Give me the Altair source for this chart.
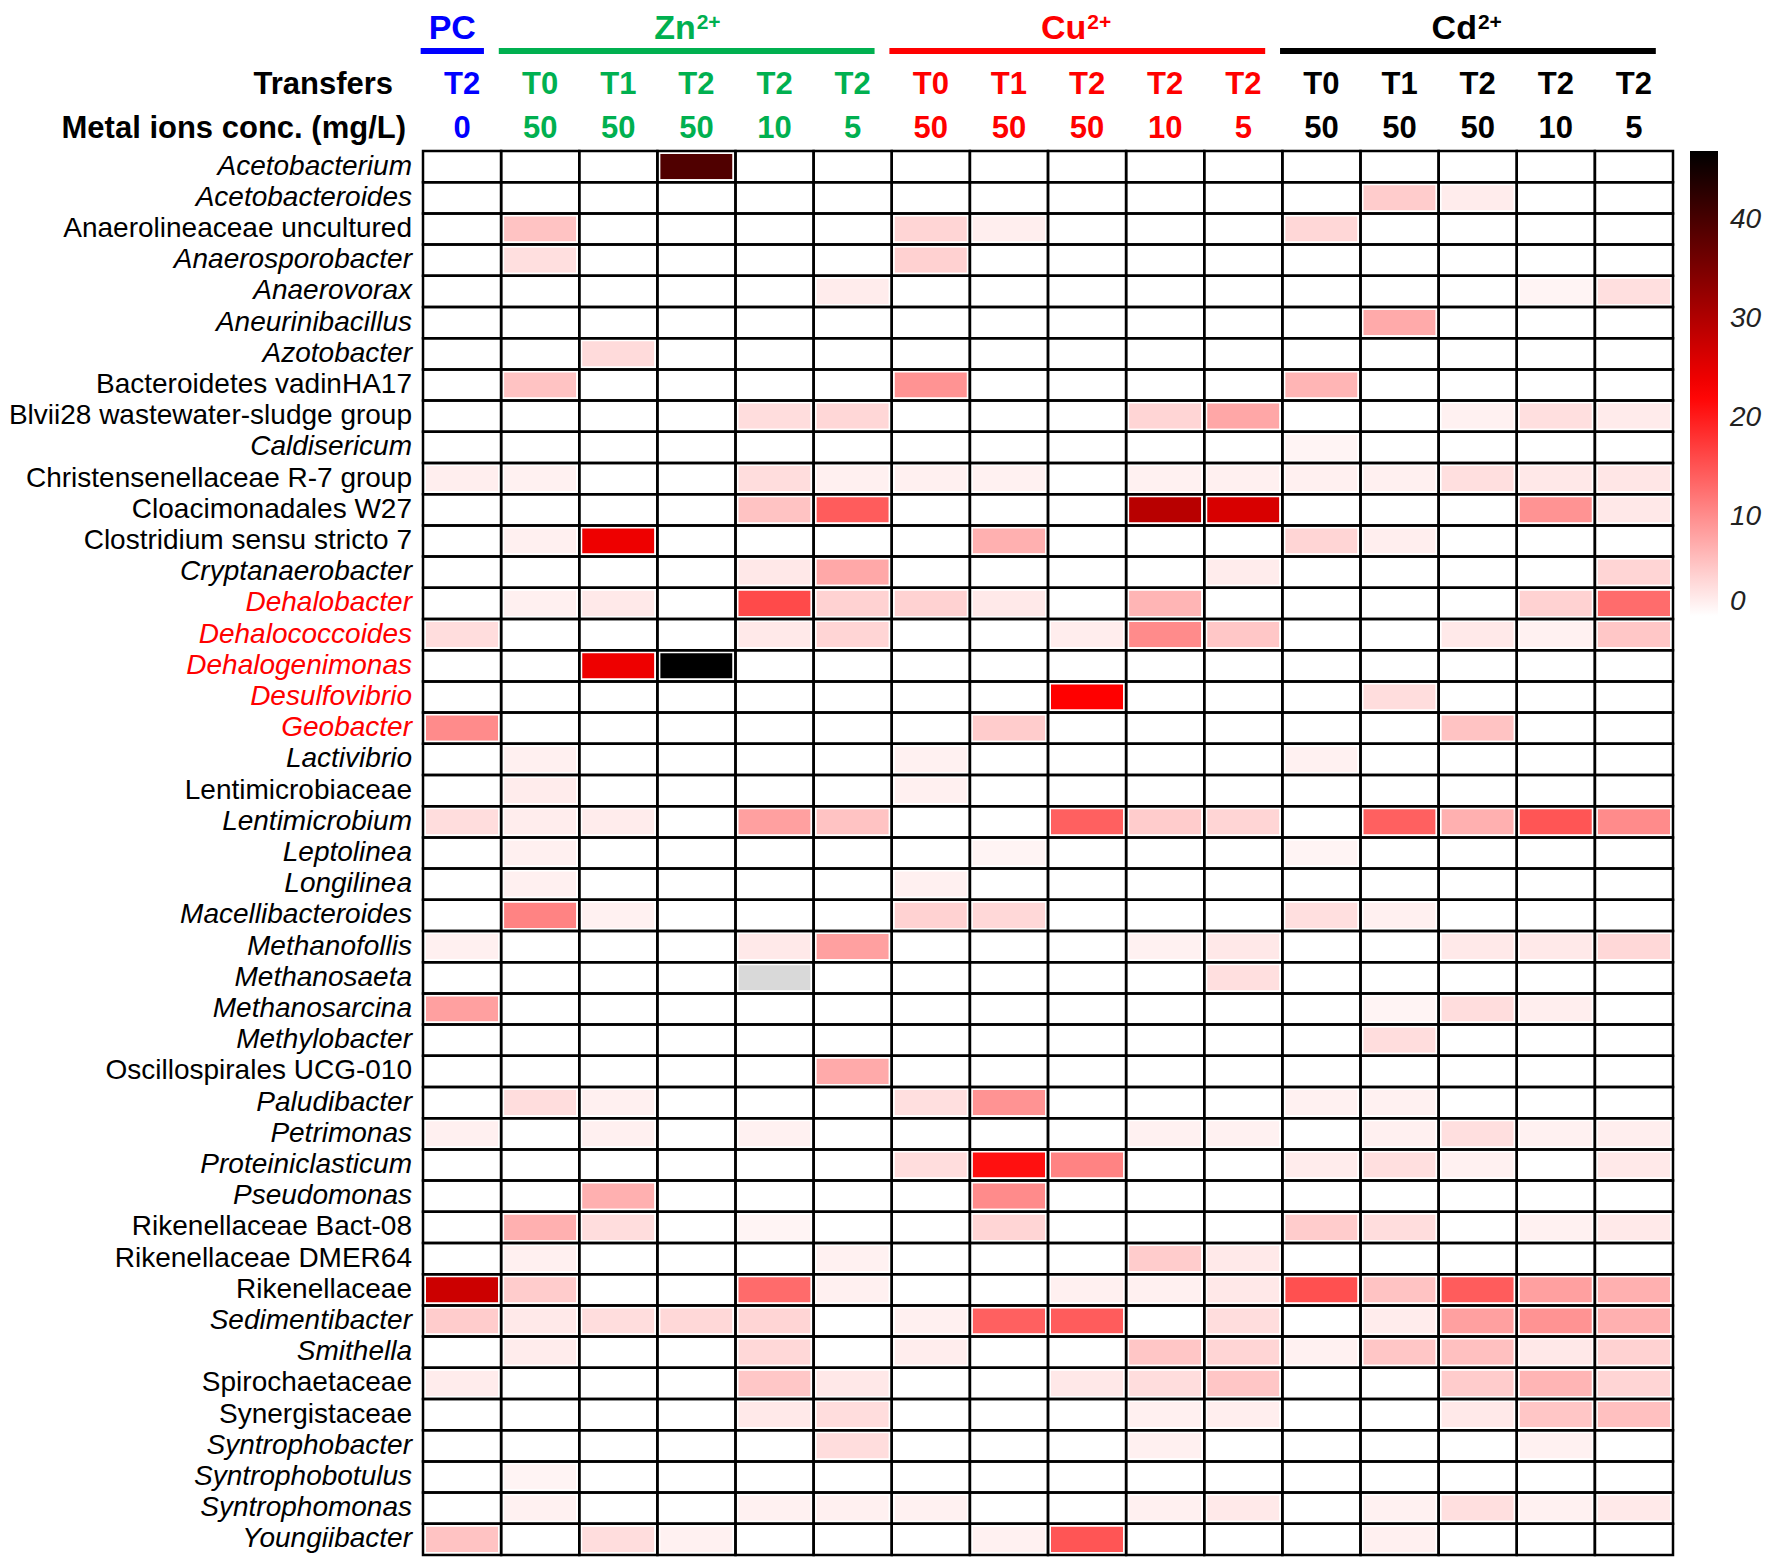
import altair as alt
import pandas as pd

# ---------------- data ----------------
genera = [
    "Acetobacterium", "Acetobacteroides", "Anaerolineaceae uncultured", "Anaerosporobacter",
    "Anaerovorax", "Aneurinibacillus", "Azotobacter", "Bacteroidetes vadinHA17",
    "Blvii28 wastewater-sludge group", "Caldisericum", "Christensenellaceae R-7 group",
    "Cloacimonadales W27", "Clostridium sensu stricto 7", "Cryptanaerobacter", "Dehalobacter",
    "Dehalococcoides", "Dehalogenimonas", "Desulfovibrio", "Geobacter", "Lactivibrio",
    "Lentimicrobiaceae", "Lentimicrobium", "Leptolinea", "Longilinea", "Macellibacteroides",
    "Methanofollis", "Methanosaeta", "Methanosarcina", "Methylobacter", "Oscillospirales UCG-010",
    "Paludibacter", "Petrimonas", "Proteiniclasticum", "Pseudomonas", "Rikenellaceae Bact-08",
    "Rikenellaceae DMER64", "Rikenellaceae", "Sedimentibacter", "Smithella", "Spirochaetaceae",
    "Synergistaceae", "Syntrophobacter", "Syntrophobotulus", "Syntrophomonas", "Youngiibacter",
]
normal_font_genera = [
    "Anaerolineaceae uncultured", "Bacteroidetes vadinHA17", "Blvii28 wastewater-sludge group",
    "Christensenellaceae R-7 group", "Cloacimonadales W27", "Clostridium sensu stricto 7",
    "Lentimicrobiaceae", "Oscillospirales UCG-010", "Rikenellaceae Bact-08",
    "Rikenellaceae DMER64", "Rikenellaceae", "Spirochaetaceae", "Synergistaceae",
]
red_genera = ["Dehalobacter", "Dehalococcoides", "Dehalogenimonas", "Desulfovibrio", "Geobacter"]

transfers = ["T2", "T0", "T1", "T2", "T2", "T2", "T0", "T1", "T2", "T2", "T2", "T0", "T1", "T2", "T2", "T2"]
concs = ["0", "50", "50", "50", "10", "5", "50", "50", "50", "10", "5", "50", "50", "50", "10", "5"]
col_group = [0, 1, 1, 1, 1, 1, 2, 2, 2, 2, 2, 3, 3, 3, 3, 3]

group_base = ["PC", "Zn", "Cu", "Cd"]
group_sup = ["", "2+", "2+", "2+"]
group_colors = ["#0000ff", "#00b050", "#ff0000", "#000000"]
group_start = [0, 1, 6, 11]
group_end = [1, 6, 11, 16]

# relative abundance (%) per sample column, rows in the order of `genera`; None = not available
pc_t2_0 = [0,0,0,0,0, 0,0,0,0,0, 1.5,0,0,0,0, 3.0,0,0,10.2,0, 0,3.0,0,0,0, 1.3,0,8.4,0,0, 0,1.3,0,0,0, 0,27.4,4.5,0,1.7, 0,0,0,0,5.3]
zn_t0_50 = [0,0,5.3,2.8,0, 0,0,5.3,0,0, 1.2,0,1.3,0,1.3, 0,0,0,0,1.3, 1.7,1.6,1.3,1.3,10.9, 0,0,0,0,0, 3.0,0,0,0,7.0, 1.3,4.5,1.9,1.7,0, 0,0,1.0,1.2,0]
zn_t1_50 = [0,0,0,0,0, 0,3.2,0,0,0, 0,0,24.1,0,1.9, 0,24.1,0,0,0, 0,1.7,0,0,1.2, 0,0,0,0,0, 1.3,1.3,0,7.0,3.0, 0,0,3.0,0,0, 0,0,0,0,3.0]
zn_t2_50 = [39.3,0,0,0,0, 0,0,0,0,0, 0,0,0,0,0, 0,47.0,0,0,0, 0,0,0,0,0, 0,0,0,0,0, 0,0,0,0,0, 0,0,3.4,0,0, 0,0,0,0,1.2]
zn_t2_10 = [0,0,0,0,0, 0,0,0,3.0,0, 3.0,5.3,0,2.0,16.0, 1.9,0,0,0,0, 0,8.4,0,0,0, 1.9,None,0,0,0, 0,1.2,0,0,1.0, 0,13.1,3.7,3.4,4.9, 1.9,0,0,1.2,0]
zn_t2_5 = [0,0,0,0,1.7, 0,0,0,3.5,0, 1.3,14.4,0,7.7,4.0, 3.7,0,0,0,0, 0,5.3,0,0,0, 8.4,0,0,0,7.5, 0,0,0,0,0, 1.2,1.3,0,0,2.0, 3.0,3.0,0,1.3,0]
cu_t0_50 = [0,0,3.7,4.1,0, 0,0,9.5,0,0, 1.3,0,0,0,4.0, 0,0,0,0,1.2, 1.3,0,0,1.3,4.0, 0,0,0,0,0, 2.8,0,3.0,0,0, 0,0,1.3,1.6,0, 0,0,0,1.2,0]
cu_t1_50 = [0,0,1.5,0,0, 0,0,0,0,0, 1.2,0,7.0,0,1.9, 0,0,0,4.5,0, 0,0,1.0,0,3.4, 0,0,0,0,0, 9.5,0,21.1,10.2,3.7, 0,0,14.0,0,0, 0,0,0,0,1.2]
cu_t2_50 = [0,0,0,0,0, 0,0,0,0,0, 0,0,0,0,0, 1.6,0,22.5,0,0, 0,14.0,0,0,0, 0,0,0,0,0, 0,0,10.9,0,0, 0,1.3,14.4,0,2.0, 0,0,0,0,15.0]
cu_t2_10 = [0,0,0,0,0, 0,0,0,3.7,0, 1.2,29.3,0,0,6.5, 10.2,0,0,0,0, 0,4.5,0,0,0, 1.2,0,0,0,0, 0,1.2,0,0,0, 4.5,1.3,0,5.0,3.0, 1.3,1.3,0,1.3,0]
cu_t2_5 = [0,0,0,0,0, 0,0,0,7.8,0, 1.3,26.2,0,1.7,0, 4.9,0,0,0,0, 0,3.7,0,0,0, 2.0,2.8,0,0,0, 0,1.2,0,0,0, 1.9,2.0,3.0,3.7,5.0, 1.5,0,0,1.9,0]
cd_t0_50 = [0,0,3.5,0,0, 0,0,6.5,0,1.0, 1.3,0,3.7,0,0, 0,0,0,0,1.2, 0,0,1.0,0,2.8, 0,0,0,0,0, 1.2,0,1.7,0,4.5, 0,15.4,0,1.2,0, 0,0,0,0,0]
cd_t1_50 = [0,4.5,0,0,0, 7.5,0,0,0,0, 1.3,0,1.5,0,0, 0,0,3.0,0,0, 0,14.0,0,0,1.3, 0,0,1.0,3.0,0, 1.2,1.3,2.8,0,3.0, 0,5.3,1.7,5.0,0, 0,0,0,1.2,1.3]
cd_t2_50 = [0,1.7,0,0,0, 0,0,0,1.2,0, 2.8,0,0,0,0, 1.9,0,0,5.3,0, 0,7.0,0,0,0, 1.9,0,3.0,0,0, 0,2.8,1.2,0,0, 0,14.4,8.4,5.6,4.5, 1.9,0,0,2.8,0]
cd_t2_10 = [0,0,0,0,1.0, 0,0,0,2.8,0, 2.0,9.5,0,0,4.0, 1.2,0,0,0,0, 0,15.0,0,0,0, 1.9,0,1.5,0,0, 0,1.2,0,0,1.2, 0,8.4,9.5,2.0,6.5, 5.0,1.2,0,1.2,0]
cd_t2_5 = [0,0,0,0,2.8, 0,0,0,1.8,0, 2.2,2.0,0,3.7,13.0, 4.9,0,0,0,0, 0,10.2,0,0,0, 3.4,0,0,0,0, 0,1.5,1.9,0,1.9, 0,7.0,7.0,4.0,3.7, 5.6,0,0,1.9,0]

columns = [pc_t2_0, zn_t0_50, zn_t1_50, zn_t2_50, zn_t2_10, zn_t2_5,
           cu_t0_50, cu_t1_50, cu_t2_50, cu_t2_10, cu_t2_5,
           cd_t0_50, cd_t1_50, cd_t2_50, cd_t2_10, cd_t2_5]
for c in columns:
    assert len(c) == len(genera)

# ---------------- tables ----------------
cell_rows = []
for ci, col in enumerate(columns):
    for ri, v in enumerate(col):
        cell_rows.append({"x0": ci, "x1": ci + 1, "y0": ri, "y1": ri + 1,
                          "v": 0.0 if v is None else v, "na": v is None})
cells = pd.DataFrame(cell_rows)

hdr = pd.DataFrame({
    "xc": [i + 0.5 for i in range(len(transfers))],
    "transfer": transfers,
    "conc": concs,
    "fc": [group_colors[g] for g in col_group],
})

grp = pd.DataFrame({
    "bx0": [s - 0.03 for s in group_start],
    "bx1": [e - 0.22 for e in group_end],
    "gx": [(s - 0.03 + e - 0.22) / 2 for s, e in zip(group_start, group_end)],
    "base": group_base,
    "sup": group_sup,
    "gc": group_colors,
})

labels = pd.DataFrame({
    "name": genera,
    "yc": [i + 0.5 for i in range(len(genera))],
    "ital": [g not in normal_font_genera for g in genera],
    "lc": ["#ff0000" if g in red_genera else "#000000" for g in genera],
})

FONT = "Liberation Sans"
W, H = 1250, 1404
xs = alt.Scale(domain=[0, 16], nice=False, zero=False)
ys = alt.Scale(domain=[0, 45], nice=False, zero=False, reverse=True)

X = alt.X("x0:Q", scale=xs, axis=None)
Y = alt.Y("y0:Q", scale=ys, axis=None)

color_scale = alt.Scale(domain=[0, 22.5, 47], range=["#ffffff", "#ff0000", "#000000"], interpolate="rgb")

fill_layer = alt.Chart(cells).mark_rect(stroke="white", strokeWidth=6).encode(
    x=X, x2="x1:Q", y=Y, y2="y1:Q",
    color=alt.condition(
        "datum.na",
        alt.value("#d9d9d9"),
        alt.Color("v:Q", scale=color_scale,
                  legend=alt.Legend(title=None, orient="right", offset=17, direction="vertical",
                                    gradientLength=465, gradientThickness=28, gradientStrokeWidth=0,
                                    labelFontSize=28, labelFont=FONT, labelFontStyle="italic",
                                    labelColor="#222222", labelOffset=12, padding=0,
                                    labelBaseline="top",
                                    values=[0, 10, 20, 30, 40])),
    ),
)

grid_layer = alt.Chart(cells).mark_rect(fillOpacity=0, stroke="black", strokeWidth=2.5).encode(
    x=X, x2="x1:Q", y=Y, y2="y1:Q",
)

row_italic = alt.Chart(labels).transform_filter("datum.ital").mark_text(
    font=FONT, fontSize=28, fontStyle="italic", align="right", baseline="middle"
).encode(
    x=alt.value(-11), y=alt.Y("yc:Q", scale=ys, axis=None), text="name:N",
    fill=alt.Fill("lc:N", scale=None),
)
row_normal = alt.Chart(labels).transform_filter("!datum.ital").mark_text(
    font=FONT, fontSize=28, align="right", baseline="middle"
).encode(
    x=alt.value(-11), y=alt.Y("yc:Q", scale=ys, axis=None), text="name:N",
    fill=alt.Fill("lc:N", scale=None),
)

transfer_text = alt.Chart(hdr).mark_text(
    font=FONT, fontSize=31, fontWeight="bold", baseline="middle"
).encode(
    x=alt.X("xc:Q", scale=xs, axis=None), y=alt.value(-66), text="transfer:N",
    fill=alt.Fill("fc:N", scale=None),
)
conc_text = alt.Chart(hdr).mark_text(
    font=FONT, fontSize=31, fontWeight="bold", baseline="middle"
).encode(
    x=alt.X("xc:Q", scale=xs, axis=None), y=alt.value(-22), text="conc:N",
    fill=alt.Fill("fc:N", scale=None),
)

transfers_title = alt.Chart(pd.DataFrame({"t": ["Transfers"]})).mark_text(
    font=FONT, fontSize=31, fontWeight="bold", align="right", baseline="middle", color="black"
).encode(x=alt.value(-30), y=alt.value(-66), text="t:N")
conc_title = alt.Chart(pd.DataFrame({"t": ["Metal ions conc. (mg/L)"]})).mark_text(
    font=FONT, fontSize=31, fontWeight="bold", align="right", baseline="middle", color="black"
).encode(x=alt.value(-17), y=alt.value(-22), text="t:N")

group_bars = alt.Chart(grp).mark_rule(strokeWidth=6).encode(
    x=alt.X("bx0:Q", scale=xs, axis=None), x2="bx1:Q", y=alt.value(-100),
    stroke=alt.Stroke("gc:N", scale=None),
)
GY = -122
group_pc = alt.Chart(grp).transform_filter("datum.sup == ''").mark_text(
    font=FONT, fontSize=34, fontWeight="bold", align="center", baseline="middle"
).encode(
    x=alt.X("gx:Q", scale=xs, axis=None), y=alt.value(GY), text="base:N",
    fill=alt.Fill("gc:N", scale=None),
)
group_main = alt.Chart(grp).transform_filter("datum.sup != ''").mark_text(
    font=FONT, fontSize=34, fontWeight="bold", align="right", baseline="middle", dx=9
).encode(
    x=alt.X("gx:Q", scale=xs, axis=None), y=alt.value(GY), text="base:N",
    fill=alt.Fill("gc:N", scale=None),
)
group_supt = alt.Chart(grp).transform_filter("datum.sup != ''").mark_text(
    font=FONT, fontSize=21, fontWeight="bold", align="left", baseline="middle", dx=10
).encode(
    x=alt.X("gx:Q", scale=xs, axis=None), y=alt.value(GY - 6), text="sup:N",
    fill=alt.Fill("gc:N", scale=None),
)

chart = alt.layer(
    fill_layer, grid_layer, row_italic, row_normal,
    transfer_text, conc_text, transfers_title, conc_title,
    group_bars, group_pc, group_main, group_supt,
).properties(width=W, height=H, padding={"top": 4, "left": 0, "right": 0, "bottom": 0}).configure_view(strokeWidth=0)

chart.save("out.html", embed_options={"renderer": "svg", "actions": False})
